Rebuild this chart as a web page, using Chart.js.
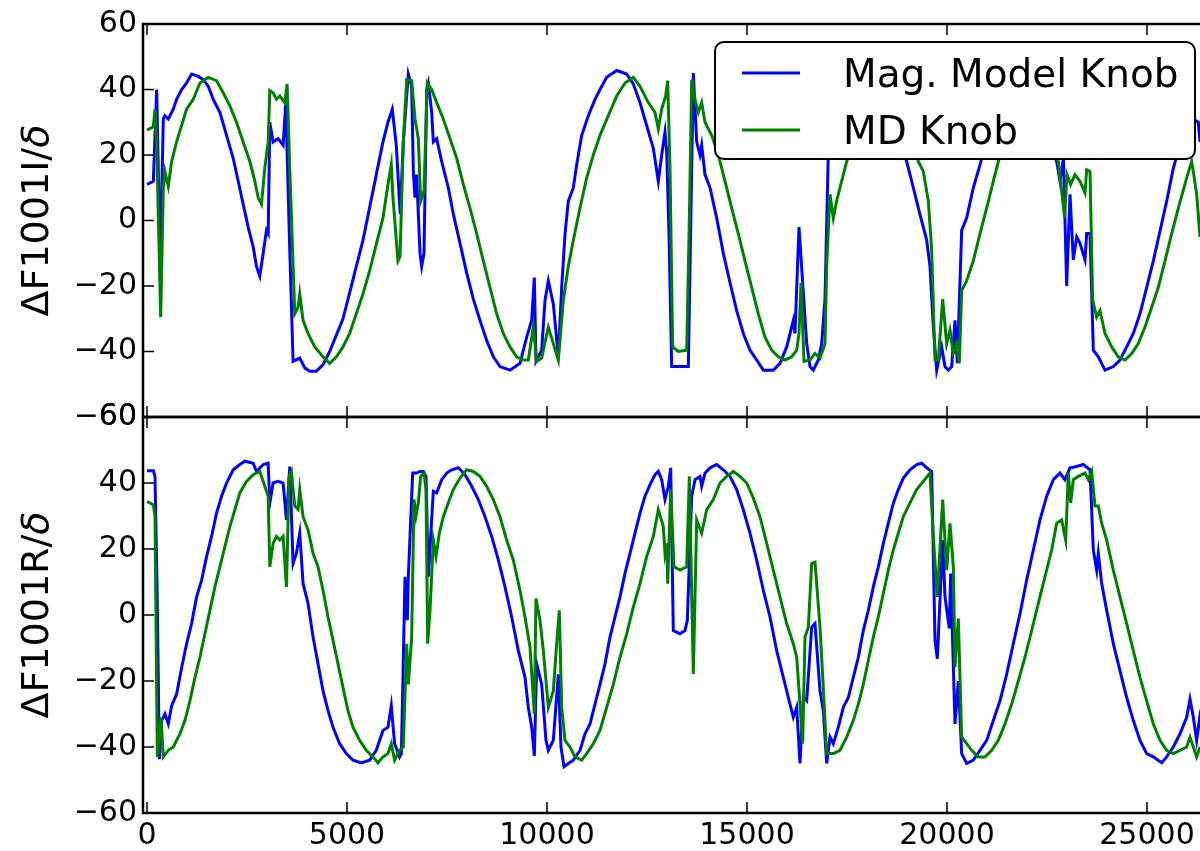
<!DOCTYPE html>
<html lang="en">
<head>
<meta charset="UTF-8">
<title>F1001 knob response</title>
<style>
  body { margin: 0; background: #fff; width: 1200px; height: 851px; overflow: hidden; position: relative; }
  canvas { position: absolute; left: 0; }
  #top { top: 0; }
  #bottom { top: 380px; }
</style>
</head>
<body>
<canvas id="top" width="1200" height="450"></canvas>
<canvas id="bottom" width="1200" height="471"></canvas>
<script src="https://cdn.jsdelivr.net/npm/chart.js"></script>
<script>
const seriesNames = ['Mag. Model Knob', 'MD Knob'];
const seriesColors = ['#0000ff', '#008000'];
const xTicks = [0, 5000, 10000, 15000, 20000, 25000];
const yTicks = [-60, -40, -20, 0, 20, 40, 60];

// [x, value], upper panel (imaginary part)
const magImag = [[0,11],[158,12],[242,40],[330,-13],[408,31],[449,32],[532,31],[657,34],[740,37],[865,40],[990,42],[1115,44.7],[1281,44],[1406,43],[1531,41],[1656,37],[1822,33],[1989,26],[2155,19],[2280,12],[2404,5],[2529,-2],[2654,-8],[2737,-14],[2820,-17],[2904,-10],[2987,-3],[3030,-4],[3070,30],[3153,24],[3278,25],[3403,23],[3469,36],[3560,-5],[3652,-43],[3819,-42],[3944,-45],[4068,-46],[4235,-46],[4401,-44],[4568,-40],[4734,-35],[4900,-30],[5067,-22],[5233,-14],[5400,-6],[5566,4],[5732,14],[5899,24],[6024,30],[6132,34],[6232,23],[6330,2],[6408,24],[6533,44.7],[6617,41],[6658,15],[6700,7],[6742,14],[6825,-10],[6867,-14],[6925,-10],[6992,40],[7033,42],[7117,33],[7158,24],[7242,25],[7367,18],[7533,10],[7658,2],[7825,-7],[7992,-16],[8158,-24],[8325,-30.5],[8492,-36.6],[8658,-41.6],[8825,-44.6],[9075,-45.7],[9325,-43.6],[9492,-35.6],[9617,-30.5],[9683,-17.4],[9725,-43],[9867,-39.6],[9950,-24.4],[10033,-18.4],[10158,-25.5],[10283,-41.6],[10367,-20.4],[10450,-4.2],[10533,5.9],[10658,10],[10742,17],[10867,26],[11033,32],[11200,37],[11325,40],[11492,43.7],[11742,45.8],[11992,44.7],[12158,41.7],[12325,36],[12492,29],[12658,22],[12783,12],[12867,20],[12950,27],[12992,21],[13050,-4],[13117,-44.6],[13533,-44.6],[13658,45],[13742,24],[13825,20],[13867,23],[13950,14],[14075,10],[14242,0.8],[14408,-10],[14575,-19],[14742,-27.5],[14908,-34.5],[15075,-39.6],[15242,-42.6],[15408,-45.7],[15658,-45.7],[15825,-43.6],[15992,-38.6],[16158,-30.5],[16200,-34.5],[16300,-2],[16392,-19],[16492,-37.6],[16575,-44.6],[16658,-45.7],[16783,-42.6],[16867,-37.6],[16950,-24],[17033,21],[17100,33],[17400,40],[17750,45],[18000,45],[18300,38],[18700,27],[18992,18],[19158,10],[19325,1.8],[19492,-6],[19575,-14],[19658,-32.5],[19742,-45.7],[19867,-38.6],[19950,-44.6],[20033,-45.7],[20117,-44.6],[20200,-30.5],[20258,-43.6],[20367,-3],[20492,0.8],[20658,10],[20825,17],[21000,25],[21400,38],[21800,45],[22200,36],[22742,18],[22825,12],[22910,19],[22992,-20],[23075,8],[23158,-12],[23242,-5],[23325,-7],[23450,-12],[23492,-4],[23575,-4],[23658,-39.6],[23783,-41.6],[23950,-45.7],[24158,-44.6],[24325,-42.6],[24492,-38.6],[24658,-34.5],[24825,-28.5],[24992,-20.4],[25158,-12.3],[25325,-3.2],[25492,5.9],[25658,16],[25825,23],[26000,28],[26150,31],[26283,30],[26325,24]];

const mdImag = [[0,27.6],[158,28.6],[200,34],[241,24],[342,-29.5],[408,10],[449,15],[532,10.4],[616,18],[740,24],[865,29],[990,34],[1156,37],[1323,42],[1531,43.7],[1739,42.7],[1905,39],[2072,35],[2238,30],[2404,24],[2571,18],[2696,12],[2779,7],[2862,5],[2945,16],[3029,24],[3070,39.7],[3153,39],[3236,37],[3320,38],[3445,36],[3503,41.7],[3569,16],[3694,-28.5],[3777,-26.5],[3819,-22.4],[3902,-30.5],[4027,-34.5],[4193,-38.6],[4401,-41.6],[4568,-43.6],[4734,-41.6],[4900,-38.6],[5067,-34.5],[5233,-28.5],[5400,-22.4],[5566,-15.4],[5732,-7.3],[5899,0.8],[6024,11],[6107,17],[6149,7],[6274,-12.3],[6325,-11],[6408,24],[6492,43],[6617,42.7],[6700,31],[6783,25],[6842,5.9],[6925,9],[7008,42],[7117,40],[7242,36],[7408,31],[7575,25],[7742,19],[7908,11],[8075,3.8],[8242,-4],[8408,-12.3],[8575,-20.4],[8742,-28.5],[8908,-34.5],[9075,-38.6],[9242,-41.6],[9408,-42.6],[9533,-42.6],[9658,-32.5],[9742,-43],[9867,-42],[10033,-32.5],[10158,-37.6],[10283,-42.6],[10408,-24.4],[10533,-14],[10658,-6],[10825,3.8],[10992,13],[11158,20],[11325,26],[11533,32],[11742,38],[11950,42],[12158,43.7],[12325,41],[12533,36],[12700,33],[12783,28],[12867,34],[12967,38],[13017,42.7],[13075,16],[13142,-38.6],[13283,-40],[13492,-39.6],[13558,0],[13617,43],[13700,37],[13783,33],[13867,36],[13950,30],[14117,26],[14283,20],[14450,12],[14617,3.8],[14783,-4],[14950,-12.3],[15117,-20.4],[15283,-28.5],[15450,-35.6],[15617,-39.6],[15783,-41.6],[15950,-42.6],[16117,-41.6],[16242,-39.6],[16300,-34.5],[16350,-19],[16425,-43],[16575,-42.6],[16700,-40.6],[16825,-42],[16950,-37.6],[16992,-14],[17075,8],[17158,0.8],[17242,6],[17325,10],[17408,14],[17492,18],[17800,28],[18200,38],[18600,43],[18900,36],[19100,26],[19283,18],[19408,15],[19533,6],[19617,-9],[19700,-42.6],[19783,-42.6],[19892,-24],[19992,-37.6],[20075,-33.5],[20158,-40.6],[20242,-37.6],[20308,-43.6],[20367,-21.4],[20492,-18.4],[20658,-12.3],[20825,-4],[20992,3.8],[21158,12],[21283,18],[21700,32],[22100,42],[22400,37],[22783,18],[22940,1],[23000,14],[23092,11],[23200,14],[23325,12],[23450,8.4],[23492,15.5],[23575,15],[23642,-24.4],[23742,-29.5],[23825,-27.5],[23950,-34.5],[24117,-38.6],[24283,-41.6],[24450,-42.6],[24617,-40.6],[24783,-37.6],[24950,-32.5],[25117,-26.5],[25283,-20.4],[25450,-12.3],[25617,-4],[25783,3.8],[25992,13],[26117,18],[26158,15],[26242,8],[26325,-5]];

// lower panel (real part)
const magReal = [[0,43.7],[158,43.7],[200,42],[250,10],[308,-43.7],[366,-32],[449,-30],[532,-33],[616,-27.5],[740,-24],[865,-16],[990,-8.7],[1115,-2.6],[1240,5.5],[1364,10.5],[1489,17.7],[1614,23.8],[1739,30.9],[1864,36],[1989,40],[2155,44],[2321,45.6],[2446,46.6],[2654,46],[2737,43.5],[2904,45.6],[3029,46],[3070,33.9],[3153,40],[3278,40.5],[3403,40],[3486,28.8],[3569,45],[3652,15.6],[3735,18.7],[3819,24.8],[3902,9.5],[4027,3.5],[4151,-6.7],[4276,-14.8],[4401,-23],[4526,-29],[4651,-34],[4817,-39],[4983,-42],[5150,-44],[5358,-44.8],[5566,-44],[5732,-41],[5899,-35],[6024,-34],[6107,-27.5],[6190,-39],[6315,-43],[6360,-42],[6450,11.6],[6508,-1.6],[6533,11.6],[6642,43],[6742,43],[6825,43.5],[6908,43.5],[6975,42],[7033,11.6],[7158,37.5],[7242,37],[7367,41],[7492,43],[7617,44],[7783,44.6],[7950,42.5],[8117,39],[8283,35],[8450,29.8],[8617,23.8],[8783,16.7],[8950,8.5],[9117,-0.6],[9283,-10.8],[9450,-18.9],[9533,-28],[9617,-34],[9683,-42.7],[9742,-14.8],[9867,-21],[9975,-38],[10033,-41],[10158,-38],[10283,-18],[10350,-40],[10425,-46],[10533,-45],[10658,-44],[10825,-41],[10950,-36],[11075,-33],[11200,-27],[11325,-21],[11450,-14.8],[11575,-6.7],[11700,-0.6],[11825,5.5],[11950,12.6],[12075,18.7],[12200,24.8],[12325,30.9],[12450,36],[12575,39.5],[12700,42.5],[12783,43.5],[12867,41],[12950,35],[13033,39],[13092,44.6],[13158,-4.7],[13325,-5.7],[13450,-4.7],[13508,-1.6],[13617,36],[13700,41],[13825,42],[13867,39],[13950,43],[14075,44.6],[14242,45.6],[14408,44],[14575,42],[14742,38],[14908,31.9],[15075,24.8],[15242,16.6],[15408,7.5],[15575,-0.6],[15742,-10.8],[15908,-18.9],[16033,-25],[16158,-31],[16242,-28],[16325,-45],[16408,-25],[16492,-26],[16617,-3.7],[16700,-2.6],[16825,-23],[16908,-29],[16992,-45],[17075,-37],[17158,-39],[17283,-34],[17408,-28],[17533,-25],[17658,-18.9],[17783,-12.8],[17908,-4.7],[18033,1.4],[18158,8.5],[18283,14.6],[18408,21.7],[18533,27.8],[18658,33.9],[18783,38],[18908,41.5],[19075,44],[19242,45.6],[19367,46],[19492,44.6],[19617,43.5],[19700,-7.7],[19758,-13.3],[19892,22.7],[19950,5.5],[20058,-4],[20092,12.6],[20200,-33],[20283,-20],[20367,-42],[20492,-45],[20658,-44],[20825,-41],[20992,-38],[21158,-32],[21325,-26],[21492,-17.9],[21658,-8.7],[21825,0.4],[21992,10.6],[22158,19.7],[22325,28.8],[22492,36],[22658,41],[22825,43],[22950,41],[23075,44.6],[23242,45],[23408,45.6],[23575,44],[23658,19.7],[23742,13.6],[23783,18.7],[23867,9.5],[23992,1.4],[24158,-8.7],[24325,-16.9],[24492,-25],[24658,-32],[24825,-38],[24992,-42],[25158,-43],[25367,-44.8],[25492,-43],[25658,-40],[25825,-36],[25992,-31],[26075,-25.5],[26158,-31],[26242,-38],[26308,-32],[26325,-34]];

const mdReal = [[0,34.4],[158,33.4],[200,30],[258,-43],[350,-31],[408,-43],[532,-41],[657,-40],[823,-36],[948,-32],[1073,-26],[1198,-19],[1323,-12.8],[1448,-5.7],[1573,1.4],[1698,8.5],[1822,14.6],[1947,20.7],[2072,26.8],[2197,31.9],[2321,37],[2488,40.5],[2654,42.5],[2820,43.5],[2945,39],[3029,36],[3070,14.6],[3153,21.7],[3236,23.8],[3320,22.7],[3403,23.8],[3486,8.5],[3553,42],[3611,43.5],[3694,33],[3777,32],[3819,38],[3902,29.8],[4027,25.8],[4151,18.7],[4276,14.6],[4401,7.5],[4526,-0.6],[4651,-7.7],[4776,-14.8],[4900,-22],[5025,-29],[5150,-34],[5317,-38],[5483,-41],[5649,-43],[5774,-44.8],[5899,-43],[6024,-42],[6107,-39],[6190,-44],[6315,-41],[6408,-40],[6492,-8.7],[6533,-21],[6617,-6.7],[6675,35],[6725,30],[6783,34],[6842,42],[6925,43],[6975,38],[7017,-8.7],[7075,1.4],[7158,22.7],[7225,17.7],[7308,24.8],[7408,29.8],[7533,34],[7658,38],[7825,41.5],[7992,44],[8158,43.5],[8325,42],[8492,39],[8658,35],[8825,29.8],[8992,22.7],[9158,16.6],[9325,7.5],[9450,-0.6],[9575,-9.7],[9683,-30],[9725,5],[9825,-1.6],[9908,-10.8],[10033,-28],[10158,-23],[10242,-8.7],[10308,1.4],[10367,-28],[10450,-38],[10575,-40],[10700,-43],[10867,-44],[10992,-42],[11158,-39],[11325,-35],[11492,-28],[11658,-21],[11825,-12.8],[11992,-5.7],[12158,2.4],[12325,9.5],[12492,17.7],[12658,23.8],[12783,31.9],[12908,26.8],[12950,18.7],[12992,21.7],[13017,9.5],[13092,38],[13175,14.6],[13325,13.6],[13492,14.6],[13558,42],[13658,-17.9],[13742,28.8],[13867,24.8],[13992,31.9],[14158,35],[14325,40],[14492,42],[14658,43.5],[14825,42],[14992,40],[15158,35.4],[15325,29.8],[15492,21.7],[15658,13.6],[15825,5.5],[15992,-2.6],[16158,-8.7],[16242,-12.8],[16325,-27],[16392,-39],[16450,-6.7],[16533,-3.7],[16617,15.6],[16700,16],[16825,-3.7],[16908,-22],[16992,-42],[17158,-42],[17325,-41],[17492,-37],[17658,-32],[17783,-27],[17908,-21],[18033,-13.8],[18158,-6.7],[18283,-0.6],[18408,6.5],[18533,13.6],[18658,19.7],[18783,24.8],[18908,29.8],[19075,34],[19242,38],[19408,40.5],[19575,43],[19658,23.8],[19758,5.5],[19892,35],[19992,13.6],[20075,27.8],[20158,14.6],[20200,-15.8],[20283,-1.1],[20367,-37],[20492,-39],[20617,-41],[20783,-43],[20950,-43],[21117,-41],[21283,-38],[21450,-33],[21617,-27],[21783,-20],[21950,-12.8],[22117,-4.7],[22283,3.5],[22450,11.6],[22617,19.7],[22742,27.8],[22867,28.8],[22967,22.7],[23033,43],[23092,34],[23158,41],[23283,42],[23450,43],[23533,41],[23617,43.5],[23700,33],[23783,33],[23867,27.8],[23992,22.7],[24158,13.6],[24325,5.5],[24492,-2.6],[24658,-10.8],[24825,-18.9],[24992,-26],[25158,-33],[25325,-38],[25492,-41],[25658,-42],[25825,-41],[25992,-40],[26075,-37],[26158,-40],[26242,-43],[26325,-40]];

Chart.defaults.font.family = '"DejaVu Sans"';
Chart.defaults.color = '#000';

function pts(list) { return list.map(p => ({ x: p[0], y: p[1] })); }
function fmt(v) { return v < 0 ? '\u2212' + Math.abs(v) : String(v); }

function roundBox(ctx, x, y, w, h, r) {
  ctx.beginPath();
  ctx.moveTo(x + r, y);
  ctx.arcTo(x + w, y, x + w, y + h, r);
  ctx.arcTo(x + w, y + h, x, y + h, r);
  ctx.arcTo(x, y + h, x, y, r);
  ctx.arcTo(x, y, x + w, y, r);
  ctx.closePath();
}

// matplotlib-like frame: inward ticks, spines, rotated y label, boxed legend
const frame = {
  id: 'frame',
  afterDraw(chart, args, opts) {
    const ctx = chart.ctx, a = chart.chartArea, sx = chart.scales.x, sy = chart.scales.y;
    ctx.save();
    ctx.strokeStyle = '#000';
    ctx.lineWidth = 1.5;
    ctx.beginPath();
    xTicks.forEach(v => {
      const px = sx.getPixelForValue(v);
      ctx.moveTo(px, a.top); ctx.lineTo(px, a.top + 11);
      ctx.moveTo(px, a.bottom); ctx.lineTo(px, a.bottom - 11);
    });
    yTicks.forEach(v => {
      const py = sy.getPixelForValue(v);
      ctx.moveTo(a.left, py); ctx.lineTo(a.left + 11, py);
    });
    ctx.stroke();

    ctx.lineWidth = 2.5;
    ctx.beginPath();
    ctx.moveTo(a.right + 3, a.top);
    ctx.lineTo(a.left, a.top);
    ctx.lineTo(a.left, a.bottom);
    ctx.lineTo(a.right + 3, a.bottom);
    ctx.stroke();

    // y label with italic delta
    ctx.fillStyle = '#000';
    ctx.translate(48, (a.top + a.bottom) / 2);
    ctx.rotate(-Math.PI / 2);
    ctx.textBaseline = 'alphabetic';
    ctx.textAlign = 'left';
    ctx.font = '38px "DejaVu Sans"';
    const w1 = ctx.measureText(opts.label).width;
    ctx.font = 'italic 38px "DejaVu Sans"';
    const w2 = ctx.measureText('\u03b4').width;
    const x0 = -(w1 + w2) / 2;
    ctx.font = '38px "DejaVu Sans"';
    ctx.fillText(opts.label, x0, 0);
    ctx.font = 'italic 38px "DejaVu Sans"';
    ctx.fillText('\u03b4', x0 + w1, 0);
    ctx.setTransform(1, 0, 0, 1, 0, 0);

    if (opts.legend) {
      ctx.fillStyle = '#fff';
      ctx.lineWidth = 2;
      roundBox(ctx, 715, 42, 480, 117, 9);
      ctx.fill();
      ctx.stroke();
      ctx.font = '39px "DejaVu Sans"';
      seriesNames.forEach((name, i) => {
        const ly = 73 + i * 57;
        ctx.strokeStyle = seriesColors[i];
        ctx.lineWidth = 3;
        ctx.beginPath();
        ctx.moveTo(742, ly); ctx.lineTo(800, ly);
        ctx.stroke();
        ctx.fillStyle = '#000';
        ctx.fillText(name, 843, ly + 14);
      });
    }
    ctx.restore();
  }
};

function panel(id, blue, green, label, legend, showX, padTop, padBottom) {
  return new Chart(document.getElementById(id), {
    type: 'line',
    data: {
      datasets: [
        { label: seriesNames[0], data: pts(blue), borderColor: seriesColors[0], borderWidth: 3, pointRadius: 0, order: 2 },
        { label: seriesNames[1], data: pts(green), borderColor: seriesColors[1], borderWidth: 3, pointRadius: 0, order: 1 }
      ]
    },
    options: {
      responsive: false,
      animation: false,
      devicePixelRatio: 1,
      layout: { padding: { top: padTop, bottom: padBottom, left: 0, right: 0 } },
      plugins: { legend: { display: false }, tooltip: { enabled: false }, frame: { label: label, legend: legend } },
      scales: {
        x: {
          type: 'linear', min: -100, max: 26325, display: showX,
          grid: { display: false, drawTicks: false }, border: { display: false },
          afterBuildTicks: s => { s.ticks = xTicks.map(v => ({ value: v })); },
          afterFit: s => { s.height = showX ? 38 : 0; },
          ticks: { padding: 5, maxRotation: 0, autoSkip: false, font: { size: 30 }, callback: v => fmt(v) }
        },
        y: {
          min: -60, max: 60,
          grid: { display: false, drawTicks: false }, border: { display: false },
          afterBuildTicks: s => { s.ticks = yTicks.map(v => ({ value: v })); },
          afterFit: s => { s.width = 143; },
          ticks: { padding: 6, autoSkip: false, font: { size: 30 }, callback: v => fmt(v) }
        }
      }
    },
    plugins: [frame]
  });
}

panel('top', magImag, mdImag, '\u0394F1001I/', true, false, 22, 33);
panel('bottom', magReal, mdReal, '\u0394F1001R/', false, true, 37, 0);
</script>
</body>
</html>
